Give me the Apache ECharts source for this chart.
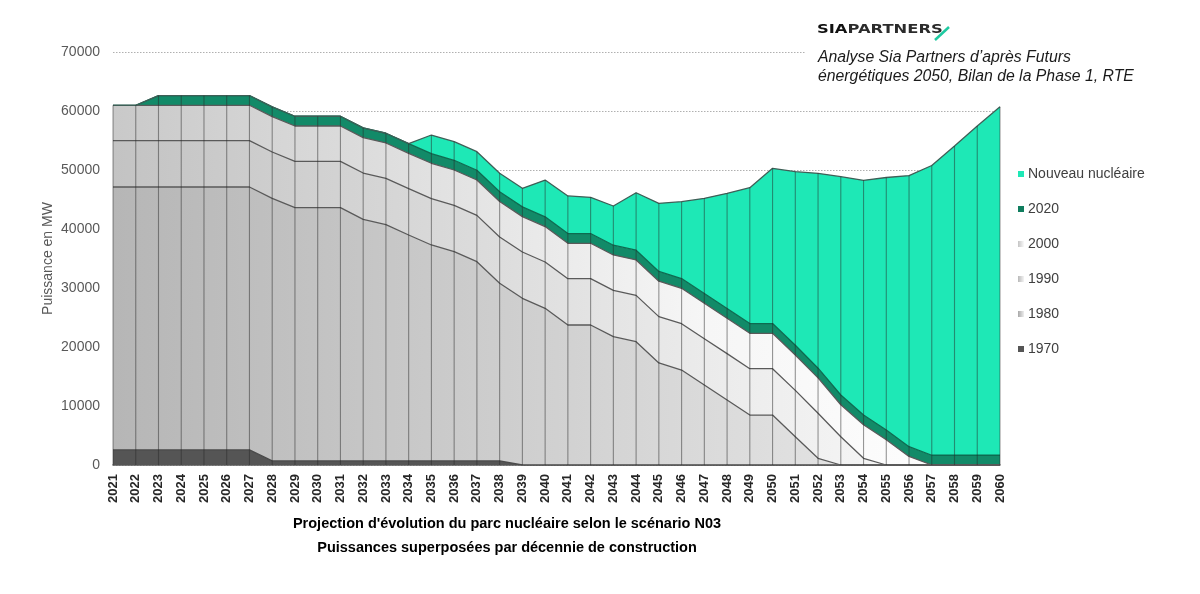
<!DOCTYPE html>
<html>
<head>
<meta charset="utf-8">
<script src="https://cdn.jsdelivr.net/npm/echarts@6/dist/echarts.min.js"></script>
<style>
html,body{margin:0;padding:0;background:#fff;}
#chart{width:1200px;height:594px;}
</style>
</head>
<body>
<div id="chart"></div>
<script>
const years = ['2021','2022','2023','2024','2025','2026','2027','2028','2029','2030',
  '2031','2032','2033','2034','2035','2036','2037','2038','2039','2040',
  '2041','2042','2043','2044','2045','2046','2047','2048','2049','2050',
  '2051','2052','2053','2054','2055','2056','2057','2058','2059','2060'];

const s1970 = [2550,2550,2550,2550,2550,2550,2550,700,700,700,
  700,700,700,700,700,700,700,700,0,0,
  0,0,0,0,0,0,0,0,0,0,
  0,0,0,0,0,0,0,0,0,0];

const s1980 = [44570,44570,44570,44570,44570,44570,44570,44500,42910,42910,
  42910,40940,40030,38280,36590,35450,33760,30100,28250,26560,
  23730,23730,21750,20900,17300,16100,13560,11020,8470,8470,
  4800,1130,0,0,0,0,0,0,0,0];

const s1990 = [7850,7850,7850,7850,7850,7850,7850,7850,7850,7850,
  7850,7850,7850,7850,7850,7850,7850,7850,7850,7850,
  7850,7850,7850,7850,7850,7850,7850,7850,7850,7850,
  7850,7630,4800,1130,0,0,0,0,0,0];

const s2000 = [6000,6000,6000,6000,6000,6000,6000,6000,6000,6000,
  6000,6000,6000,6000,6000,6000,6000,6000,6000,6000,
  6000,6000,6000,6000,6000,6000,6000,6000,6000,6000,
  6000,6000,5410,5690,4280,1450,0,0,0,0];

const s2020 = [0,0,1650,1650,1650,1650,1650,1650,1650,1650,
  1650,1650,1650,1650,1650,1650,1650,1650,1650,1650,
  1650,1650,1650,1650,1650,1650,1650,1650,1650,1650,
  1650,1650,1650,1650,1650,1650,1650,1650,1650,1650];

const sNew = [0,0,0,0,0,0,0,0,0,0,
  0,0,0,0,3140,3150,3140,3140,3150,6240,
  6370,6140,6650,9750,11550,13030,16140,19530,23030,26310,
  29420,33030,37010,39780,42800,45960,49110,52420,55810,59080];

const yTicks = [0,10000,20000,30000,40000,50000,60000,70000];

const seriesNames = ['1970','1980','1990','2000','2020','Nouveau nucléaire'];
const seriesData = [s1970,s1980,s1990,s2000,s2020,sNew];

function hgrad(stops){
  return {type:'linear',x:0,y:0,x2:1,y2:0,colorStops:stops.map(s=>({offset:s[0],color:s[1]}))};
}
const fills = [
  '#555555',
  hgrad([[0,'#b6b6b6'],[1,'#ececec']]),
  hgrad([[0,'#c3c3c3'],[0.67,'#ebebeb'],[1,'#fbfbfb']]),
  hgrad([[0,'#c9c9c9'],[0.67,'#f6f6f6'],[1,'#ffffff']]),
  '#128a68',
  '#1ee8b6'
];
const legendFills = [
  '#555555',
  hgrad([[0,'#a8a8a8'],[1,'#eeeeee']]),
  hgrad([[0,'#b8b8b8'],[1,'#f4f4f4']]),
  hgrad([[0,'#c4c4c4'],[1,'#fafafa']]),
  '#0f7d5e',
  '#1ee8b6'
];
const lineColors = ['#4a4a4a','#5a5a5a','#5a5a5a','#5a5a5a','#0d6b50','#3f5f57'];

const totals = years.map((_,i)=>seriesData.reduce((a,s)=>a+s[i],0));

const series = seriesNames.map((name,k)=>({
  name: name,
  type: 'line',
  stack: 'total',
  data: seriesData[k],
  showSymbol: false,
  symbol: 'none',
  lineStyle: {color: lineColors[k], width: 1.3},
  areaStyle: {color: fills[k], opacity: 1},
  itemStyle: {color: legendFills[k]},
  emphasis: {disabled: true},
  z: 2
}));

series.push({
  name: 'dividers',
  type: 'custom',
  data: totals.map((t,i)=>[i,t]),
  z: 3,
  silent: true,
  renderItem: function(params, api){
    const p0 = api.coord([api.value(0), 0]);
    const p1 = api.coord([api.value(0), api.value(1)]);
    return {
      type:'line',
      shape:{x1:p0[0],y1:p0[1],x2:p1[0],y2:p1[1]},
      style:{stroke:'rgba(40,40,40,0.48)',lineWidth:1.1}
    };
  }
});

const chart = echarts.init(document.getElementById('chart'), null, {renderer:'canvas'});
chart.setOption({
  backgroundColor: '#ffffff',
  animation: false,
  grid: {left:113, right:200, top:52, bottom:129, containLabel:false},
  legend: {
    orient: 'vertical',
    left: 1018,
    top: 167,
    padding: 0,
    icon: 'rect',
    itemWidth: 6,
    itemHeight: 6,
    itemGap: 21,
    data: ['Nouveau nucléaire','2020','2000','1990','1980','1970'],
    textStyle: {fontFamily:'Liberation Sans, Arial, sans-serif', fontSize:14, color:'#404040', lineHeight:14, padding:[0,0,0,-1]},
    selectedMode: false
  },
  xAxis: {
    type: 'category',
    data: years,
    boundaryGap: false,
    axisTick: {show:false},
    axisLine: {show:true, lineStyle:{color:'#595959', width:1.5}},
    axisLabel: {rotate:90, interval:0, margin:9, fontFamily:'Liberation Sans, Arial, sans-serif', fontSize:13, fontWeight:'bold', color:'#262626'},
    splitLine: {show:false}
  },
  yAxis: {
    type: 'value',
    min: yTicks[0],
    max: yTicks[yTicks.length-1],
    interval: 10000,
    name: 'Puissance en MW',
    nameLocation: 'middle',
    nameRotate: 90,
    nameGap: 58,
    nameMoveOverlap: false,
    nameTextStyle: {fontFamily:'Liberation Sans, Arial, sans-serif', fontSize:14, color:'#595959'},
    axisLine: {show:false},
    axisTick: {show:false},
    axisLabel: {margin:13, fontFamily:'Liberation Sans, Arial, sans-serif', fontSize:14, color:'#595959',
      formatter: function(v){ return String(v); }},
    splitLine: {show:true, lineStyle:{color:'#b0b0b0', type:[1.5,1.5], width:1}}
  },
  graphic: [
    {type:'rect', shape:{x:806,y:42,width:360,height:50}, style:{fill:'#ffffff'}, z:10},
    {type:'text', x:817, y:24, scaleX:1.42, scaleY:1, z:11, style:{
      text:'{a|SIA}{b|PARTNERS}',
      rich:{
        a:{fontFamily:'DejaVu Sans, sans-serif', fontSize:11.5, fontWeight:'bold', fill:'#111111'},
        b:{fontFamily:'DejaVu Sans, sans-serif', fontSize:11.5, fontWeight:'bold', fill:'#2b2b2b'}
      }
    }},
    {type:'line', shape:{x1:935,y1:40,x2:949,y2:27}, style:{stroke:'#1ec9a0', lineWidth:2.5}, z:12},
    {type:'text', left:818, top:48, z:11, style:{
      text:'Analyse Sia Partners d’après Futurs\nénergétiques 2050, Bilan de la Phase 1, RTE',
      fontFamily:'Liberation Sans, Arial, sans-serif', fontSize:15.8, fontStyle:'italic', fill:'#1a1a1a', lineHeight:19
    }},
    {type:'text', x:507, y:512, z:11, style:{
      text:"Projection d'évolution du parc nucléaire selon le scénario N03\nPuissances superposées par décennie de construction",
      fontFamily:'Liberation Sans, Arial, sans-serif', fontSize:14.5, fontWeight:'bold', fill:'#000000', lineHeight:24, align:'center'
    }}
  ],
  series: series
});
</script>
</body>
</html>
